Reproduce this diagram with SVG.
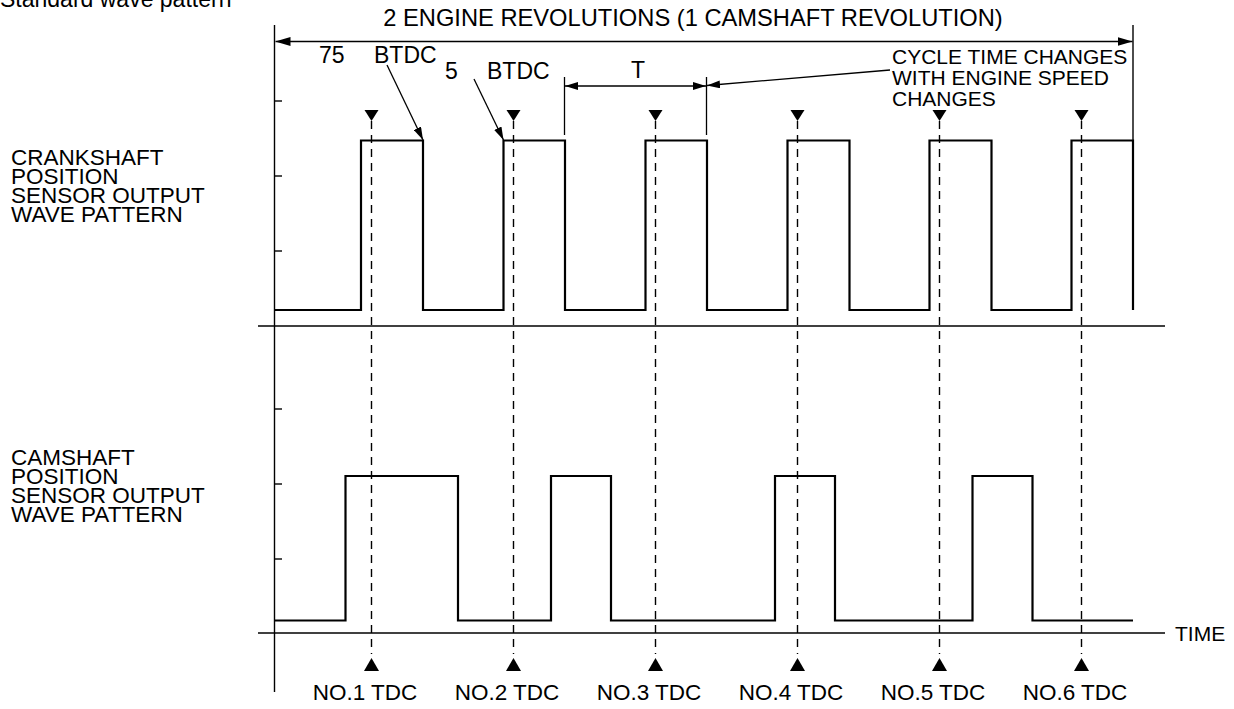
<svg xmlns="http://www.w3.org/2000/svg" width="1234" height="709" viewBox="0 0 1234 709">
<style>
  text { font-family: "Liberation Sans", Arial, sans-serif; fill: #000; }
  .lbl { font-size: 21px; }
  .side { font-size: 22.5px; }
  .big { font-size: 23px; }
  .tdc { font-size: 22.5px; }
  .ax { stroke: #000; stroke-width: 1.4; fill: none; }
  .wave { stroke: #000; stroke-width: 2.2; fill: none; stroke-linejoin: miter; }
  .dash { stroke: #000; stroke-width: 1.4; stroke-dasharray: 8 6; fill: none; }
  .thin { stroke: #000; stroke-width: 1.3; fill: none; }
  .tri { fill: #000; }
</style>
<defs>
  <marker id="arr" markerUnits="userSpaceOnUse" markerWidth="15" markerHeight="9" refX="15" refY="4.5" orient="auto-start-reverse">
    <path d="M0,0 L15,4.5 L0,9 z" fill="#000"/>
  </marker>
  <marker id="arrs" markerUnits="userSpaceOnUse" markerWidth="13" markerHeight="8" refX="13" refY="4" orient="auto-start-reverse">
    <path d="M0,0 L13,4 L0,8 z" fill="#000"/>
  </marker>
</defs>
<rect width="1234" height="709" fill="#fff"/>

<text id="caption" class="big" x="0" y="7">Standard wave pattern</text>

<g id="axes">
  <line class="ax" x1="274.5" y1="25" x2="274.5" y2="692"/>
  <line class="ax" x1="258" y1="326" x2="1165" y2="326"/>
  <line class="ax" x1="258" y1="633" x2="1165" y2="633"/>
  <line class="ax" x1="1133" y1="25" x2="1133" y2="310"/>
  <g id="ticks">
    <line class="ax" x1="274.5" y1="101" x2="282" y2="101"/>
    <line class="ax" x1="274.5" y1="176" x2="282" y2="176"/>
    <line class="ax" x1="274.5" y1="251" x2="282" y2="251"/>
    <line class="ax" x1="274.5" y1="409" x2="282" y2="409"/>
    <line class="ax" x1="274.5" y1="484" x2="282" y2="484"/>
    <line class="ax" x1="274.5" y1="559" x2="282" y2="559"/>
  </g>
  <text id="time" class="lbl" x="1175" y="641">TIME</text>
</g>

<g id="crank-label" class="side">
  <text x="11" y="165">CRANKSHAFT</text>
  <text x="11" y="184">POSITION</text>
  <text x="11" y="203">SENSOR OUTPUT</text>
  <text x="11" y="222">WAVE PATTERN</text>
</g>
<g id="cam-label" class="side">
  <text x="11" y="465">CAMSHAFT</text>
  <text x="11" y="484">POSITION</text>
  <text x="11" y="503">SENSOR OUTPUT</text>
  <text x="11" y="522">WAVE PATTERN</text>
</g>

<g id="tdc-lines">
  <line class="dash" x1="371.5" y1="121" x2="371.5" y2="654"/>
  <line class="dash" x1="513.5" y1="121" x2="513.5" y2="654"/>
  <line class="dash" x1="655.5" y1="121" x2="655.5" y2="654"/>
  <line class="dash" x1="797.5" y1="121" x2="797.5" y2="654"/>
  <line class="dash" x1="939.5" y1="121" x2="939.5" y2="654"/>
  <line class="dash" x1="1081.5" y1="121" x2="1081.5" y2="654"/>
</g>

<g id="crank-wave">
  <path class="wave" d="M275,310 H361 V140.5 H423 V310 H503.5 V140.5 H565 V310 H645.5 V140.5 H707 V310 H787.5 V140.5 H849.5 V310 H929.5 V140.5 H991.5 V310 H1071.5 V140.5 H1133 V310"/>
</g>
<g id="cam-wave">
  <path class="wave" d="M275,620.5 H345.5 V476 H458 V620.5 H551 V476 H611 V620.5 H775 V476 H835 V620.5 H972.5 V476 H1032.5 V620.5 H1133"/>
</g>

<g id="tdc-top-markers">
  <polygon class="tri" points="364.5,110 378.5,110 371.5,121"/>
  <polygon class="tri" points="506.5,110 520.5,110 513.5,121"/>
  <polygon class="tri" points="648.5,110 662.5,110 655.5,121"/>
  <polygon class="tri" points="790.5,110 804.5,110 797.5,121"/>
  <polygon class="tri" points="932.5,110 946.5,110 939.5,121"/>
  <polygon class="tri" points="1074.5,110 1088.5,110 1081.5,121"/>
</g>
<g id="tdc-bottom-markers">
  <polygon class="tri" points="371.5,658 364,671 379,671"/>
  <polygon class="tri" points="513.5,658 506,671 521,671"/>
  <polygon class="tri" points="655.5,658 648,671 663,671"/>
  <polygon class="tri" points="797.5,658 790,671 805,671"/>
  <polygon class="tri" points="939.5,658 932,671 947,671"/>
  <polygon class="tri" points="1081.5,658 1074,671 1089,671"/>
</g>
<g id="tdc-labels" class="tdc" text-anchor="middle">
  <text x="365" y="700">NO.1 TDC</text>
  <text x="507" y="700">NO.2 TDC</text>
  <text x="649" y="700">NO.3 TDC</text>
  <text x="791" y="700">NO.4 TDC</text>
  <text x="933" y="700">NO.5 TDC</text>
  <text x="1075" y="700">NO.6 TDC</text>
</g>

<g id="title">
  <text x="693" y="26" text-anchor="middle" style="font-size:23.7px">2 ENGINE REVOLUTIONS (1 CAMSHAFT REVOLUTION)</text>
</g>

<g id="connectors">
  <line class="thin" x1="275.5" y1="41.5" x2="1132.5" y2="41.5" marker-start="url(#arr)" marker-end="url(#arr)"/>
  <line class="thin" x1="387" y1="65" x2="423" y2="140" marker-end="url(#arrs)"/>
  <line class="thin" x1="474" y1="79" x2="503.5" y2="140" marker-end="url(#arrs)"/>
  <line class="thin" x1="564.5" y1="77" x2="564.5" y2="135"/>
  <line class="thin" x1="706.5" y1="77" x2="706.5" y2="135"/>
  <line class="thin" x1="565" y1="86" x2="706" y2="86" marker-start="url(#arrs)" marker-end="url(#arrs)"/>
  <line class="thin" x1="890" y1="70" x2="707" y2="85.5" marker-end="url(#arrs)"/>
</g>

<g id="annotations" class="big">
  <text x="319" y="63">75</text>
  <text x="374" y="63">BTDC</text>
  <text x="445" y="79">5</text>
  <text x="487" y="79">BTDC</text>
  <text x="631" y="78">T</text>
  <text class="lbl" x="892" y="64">CYCLE TIME CHANGES</text>
  <text class="lbl" x="892" y="85">WITH ENGINE SPEED</text>
  <text class="lbl" x="892" y="106">CHANGES</text>
</g>
</svg>
